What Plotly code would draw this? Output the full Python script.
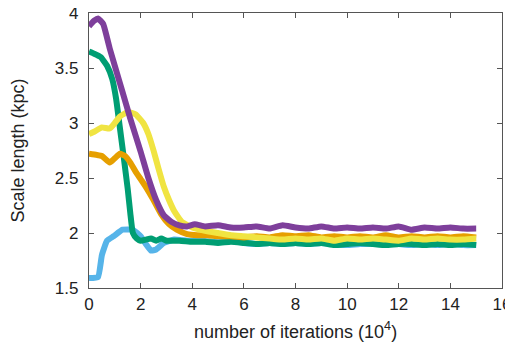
import plotly.graph_objects as go

flat_x = [5.0, 5.5, 6.0, 6.5, 7.0, 7.5, 8.0, 8.5, 9.0, 9.5, 10.0, 10.5, 11.0, 11.5, 12.0, 12.5, 13.0, 13.5, 14.0, 14.5, 15.0]

purple_x = [0, 0.2, 0.35, 0.55, 0.8, 1.0, 1.3, 1.6, 2.0, 2.3, 2.6, 2.9, 3.2, 3.5, 3.8, 4.1, 4.5] + flat_x
purple_y = [3.88, 3.93, 3.95, 3.90, 3.68, 3.52, 3.28, 3.04, 2.74, 2.50, 2.30, 2.16, 2.10, 2.07, 2.06, 2.08, 2.06,
            2.07, 2.05, 2.05, 2.06, 2.04, 2.07, 2.05, 2.04, 2.06, 2.04, 2.05, 2.04, 2.05, 2.04, 2.06, 2.03, 2.05, 2.04, 2.05, 2.04, 2.04]

green_x = [0, 0.2, 0.45, 0.7, 0.9, 1.05, 1.2, 1.35, 1.5, 1.6, 1.7, 1.85, 2.0, 2.2, 2.4, 2.6, 2.8, 3.0, 3.5, 4.0, 4.5] + flat_x
green_y = [3.65, 3.63, 3.60, 3.52, 3.40, 3.22, 2.95, 2.68, 2.40, 2.18, 2.00, 1.95, 1.93, 1.94, 1.95, 1.93, 1.95, 1.93, 1.93, 1.92, 1.92,
           1.91, 1.92, 1.91, 1.90, 1.91, 1.90, 1.91, 1.90, 1.91, 1.89, 1.90, 1.91, 1.90, 1.89, 1.90, 1.90, 1.89, 1.90, 1.89, 1.90, 1.89]

orange_x = [0, 0.3, 0.5, 0.8, 1.0, 1.2, 1.4, 1.6, 1.8, 2.0, 2.2, 2.5, 2.8, 3.1, 3.4, 3.8, 4.2, 4.6] + flat_x
orange_y = [2.72, 2.71, 2.70, 2.64, 2.68, 2.72, 2.70, 2.64, 2.56, 2.49, 2.42, 2.30, 2.17, 2.08, 2.03, 1.99, 1.98, 1.98,
            1.97, 1.97, 1.96, 1.97, 1.96, 1.98, 1.97, 1.98, 1.96, 1.97, 1.96, 1.97, 1.96, 1.98, 1.96, 1.97, 1.96, 1.97, 1.96, 1.97, 1.96]

yellow_x = [0, 0.2, 0.5, 0.8, 1.0, 1.2, 1.5, 1.8, 2.1, 2.3, 2.5, 2.7, 2.9, 3.1, 3.3, 3.6, 4.0, 4.5] + flat_x
yellow_y = [2.90, 2.92, 2.96, 2.95, 3.00, 3.06, 3.10, 3.08, 3.00, 2.90, 2.75, 2.58, 2.42, 2.30, 2.20, 2.10, 2.05, 2.02,
            2.00, 1.98, 1.97, 1.96, 1.95, 1.94, 1.95, 1.94, 1.95, 1.93, 1.95, 1.94, 1.95, 1.94, 1.93, 1.95, 1.94, 1.95, 1.94, 1.94, 1.95]

blue_x = [0, 0.35, 0.5, 0.7, 0.95, 1.3, 1.7, 2.0, 2.2, 2.4, 2.6, 2.9, 3.3, 3.8, 4.3] + flat_x
blue_y = [1.59, 1.60, 1.80, 1.93, 1.97, 2.03, 2.03, 1.97, 1.90, 1.84, 1.85, 1.91, 1.94, 1.93, 1.93,
          1.92, 1.93, 1.91, 1.90, 1.91, 1.90, 1.91, 1.90, 1.91, 1.90, 1.89, 1.90, 1.90, 1.91, 1.90, 1.89, 1.90, 1.89, 1.90, 1.89, 1.89]

x_ticks = [0, 2, 4, 6, 8, 10, 12, 14, 16]
y_ticks = [1.5, 2, 2.5, 3, 3.5, 4]
y_tick_labels = ["1.5", "2", "2.5", "3", "3.5", "4"]
x_title = "number of iterations (10<sup>4</sup>)"
y_title = "Scale length (kpc)"

series = [
    (blue_x, blue_y, "#56B4E9"),
    (green_x, green_y, "#009E73"),
    (orange_x, orange_y, "#E69F00"),
    (yellow_x, yellow_y, "#F0E442"),
    (purple_x, purple_y, "#7E3F9B"),
]

fig = go.Figure()
for xs, ys, col in series:
    fig.add_trace(go.Scatter(x=xs, y=ys, mode="lines",
                             line=dict(color=col, width=6, shape="spline", smoothing=0.4),
                             showlegend=False, hoverinfo="skip"))

FONT = "Liberation Sans, Arial, sans-serif"
axis_common = dict(showline=True, linecolor="#555555", linewidth=1.4, mirror="ticks",
                   ticks="inside", ticklen=5, tickcolor="#555555", showgrid=False, zeroline=False,
                   ticklabeloverflow="allow", automargin=False,
                   tickfont=dict(family=FONT, size=17, color="#222222"))

# page body has an 8px margin, so the figure is shifted accordingly
fig.update_layout(
    width=505, height=335,
    margin=dict(l=81, r=11, t=5, b=55),
    paper_bgcolor="white", plot_bgcolor="white",
    font=dict(family=FONT, color="#222222"),
    xaxis=dict(range=[0, 16], tickvals=x_ticks, ticklabelstandoff=0, **axis_common),
    yaxis=dict(range=[1.5, 4], tickvals=y_ticks, ticktext=y_tick_labels, ticklabelstandoff=6,
               title=dict(text=y_title, font=dict(size=18), standoff=28),
               **axis_common),
    annotations=[dict(text=x_title, xref="paper", yref="paper", x=0.5, y=0,
                      xanchor="center", yanchor="top", yshift=-29, showarrow=False,
                      font=dict(family=FONT, size=18, color="#222222"))],
)

fig.write_html("out.html")
